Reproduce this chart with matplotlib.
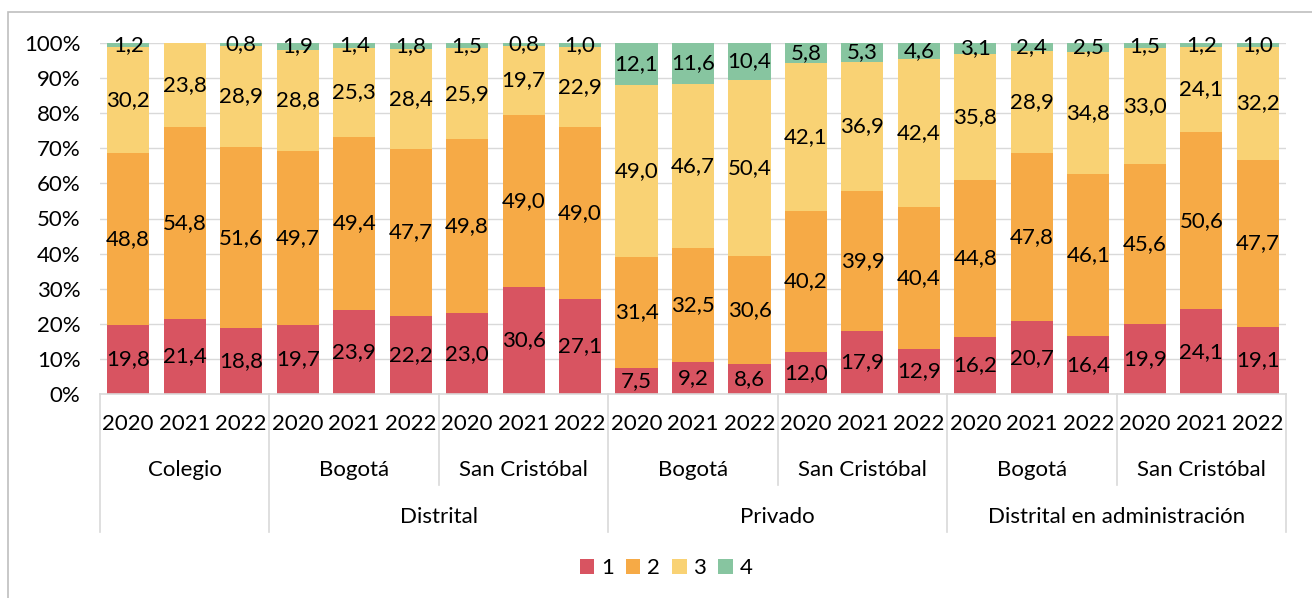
import numpy as np
import matplotlib
matplotlib.use('Agg')
import matplotlib.pyplot as plt
from matplotlib.patches import Rectangle
from matplotlib.lines import Line2D

plt.rcParams['font.family'] = ['Lato', 'DejaVu Sans']

# Data (percent per bar)
years = ['2020', '2021', '2022']
subgroups = ['Colegio', 'Bogotá', 'San Cristóbal', 'Bogotá', 'San Cristóbal', 'Bogotá', 'San Cristóbal']
groups = ['', 'Distrital', 'Privado', 'Distrital en administración']
group_sizes = [1, 2, 2, 2]  # subgroups per group

series_names = ['1', '2', '3', '4']
s1 = [19.8, 21.4, 18.8, 19.7, 23.9, 22.2, 23.0, 30.6, 27.1, 7.5, 9.2, 8.6,
      12.0, 17.9, 12.9, 16.2, 20.7, 16.4, 19.9, 24.1, 19.1]
s2 = [48.8, 54.8, 51.6, 49.7, 49.4, 47.7, 49.8, 49.0, 49.0, 31.4, 32.5, 30.6,
      40.2, 39.9, 40.4, 44.8, 47.8, 46.1, 45.6, 50.6, 47.7]
s3 = [30.2, 23.8, 28.9, 28.8, 25.3, 28.4, 25.9, 19.7, 22.9, 49.0, 46.7, 50.4,
      42.1, 36.9, 42.4, 35.8, 28.9, 34.8, 33.0, 24.1, 32.2]
s4 = [1.2, 0.0, 0.8, 1.9, 1.4, 1.8, 1.5, 0.8, 1.0, 12.1, 11.6, 10.4,
      5.8, 5.3, 4.6, 3.1, 2.4, 2.5, 1.5, 1.2, 1.0]

colors = ['#D85461', '#F6AA46', '#F9D274', '#87C5A0']
FS = 16

W, H = 1312, 598
fig = plt.figure(figsize=(W / 100, H / 100), dpi=100)

# chart border (only top and left edges are visible in the reference)
fig.patches.append(Rectangle((8 / W, -0.1), 1.2, 1.1 - 12 / H, transform=fig.transFigure,
                             fill=False, edgecolor='#BFBFBF', linewidth=1.2))

ax = fig.add_axes([100 / W, 1 - 394 / H, (1286 - 100) / W, (394 - 43) / H])

data = np.array([s1, s2, s3, s4])
totals = data.sum(axis=0)
pct = data / totals * 100
n = data.shape[1]
x = np.arange(n)
bottom = np.zeros(n)
for i in range(4):
    ax.bar(x, pct[i], bottom=bottom, width=0.745, color=colors[i], label=series_names[i], zorder=2)
    for xi, v, b, raw in zip(x, pct[i], bottom, data[i]):
        if raw > 0:
            ax.text(xi, b + v / 2, f'{raw:.1f}'.replace('.', ','), ha='center', va='center',
                    fontsize=FS, color='black', zorder=3)
    bottom += pct[i]

ax.set_xlim(-0.5, n - 0.5)
ax.set_ylim(0, 100)
ax.set_yticks(np.arange(0, 101, 10))
ax.set_yticklabels([f'{v}%' for v in range(0, 101, 10)], fontsize=FS)
ax.tick_params(axis='y', length=0, pad=14)
ax.set_xticks([])
ax.grid(axis='y', color='#D9D9D9', linewidth=1, zorder=0)
for side in ['top', 'right', 'left']:
    ax.spines[side].set_visible(False)
ax.spines['bottom'].set_color('#D9D9D9')
ax.spines['bottom'].set_linewidth(1.2)

# multi-level category axis
tr = ax.get_xaxis_transform()
ah = 394 - 43
y_year = -(424 - 394) / ah
y_sub = -(470 - 394) / ah
y_grp = -(517 - 394) / ah
y_sub_end = -(485 - 394) / ah
y_grp_end = -(532 - 394) / ah

for xi in x:
    ax.text(xi, y_year, years[xi % 3], transform=tr, ha='center', va='center', fontsize=FS)
for j, name in enumerate(subgroups):
    ax.text(3 * j + 1, y_sub, name, transform=tr, ha='center', va='center', fontsize=FS)

lkw = dict(transform=tr, color='#D9D9D9', linewidth=1.2, clip_on=False)
start = 0
for g, size in zip(groups, group_sizes):
    left = start * 3 - 0.5
    right = (start + size) * 3 - 0.5
    ax.add_line(Line2D([left, left], [0, y_grp_end], **lkw))
    for k in range(1, size):
        xs = (start + k) * 3 - 0.5
        ax.add_line(Line2D([xs, xs], [0, y_sub_end], **lkw))
    if g:
        ax.text((left + right) / 2, y_grp, g, transform=tr, ha='center', va='center', fontsize=FS)
    start += size
ax.add_line(Line2D([n - 0.5, n - 0.5], [0, y_grp_end], **lkw))

leg = fig.legend(loc='center', bbox_to_anchor=(666 / W, 1 - 568 / H), ncol=4, frameon=False,
                 fontsize=FS, handlelength=0.65, handleheight=0.65, handletextpad=0.3,
                 columnspacing=0.55)

fig.savefig('out.png', dpi=100)
